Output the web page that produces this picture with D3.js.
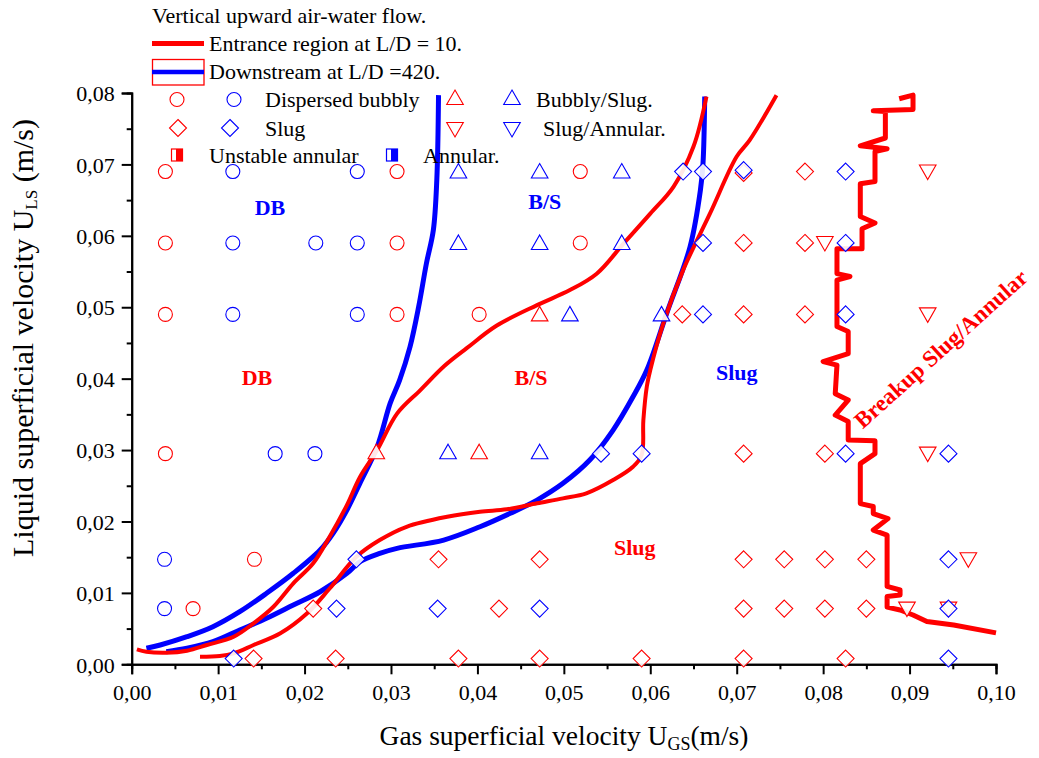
<!DOCTYPE html>
<html>
<head>
<meta charset="utf-8">
<script src="https://cdn.jsdelivr.net/npm/d3@7"></script>
<style>
  html, body { margin: 0; padding: 0; background: #fff; }
  svg { display: block; }
  text { font-family: "Liberation Serif", "Times New Roman", serif; }
</style>
</head>
<body>
<svg id="chart" width="1039" height="758"></svg>
<script>
// ---------------- DATA ----------------
const xTicks = [0, 0.01, 0.02, 0.03, 0.04, 0.05, 0.06, 0.07, 0.08, 0.09, 0.10];
const yTicks = [0, 0.01, 0.02, 0.03, 0.04, 0.05, 0.06, 0.07, 0.08];
const xMinor = [0.005, 0.015, 0.025, 0.035, 0.045, 0.055, 0.065, 0.075, 0.085, 0.095];
const yMinor = [0.005, 0.015, 0.025, 0.035, 0.045, 0.055, 0.065, 0.075];

// Entrance region (L/D = 10) boundaries
const entranceDbBs = [[0.0006,0.0021],[0.0017,0.00176],[0.0040,0.00162],[0.0064,0.0019],[0.0087,0.0027],[0.0118,0.00386],[0.0141,0.00574],[0.0164,0.00806],[0.0187,0.01134],[0.0210,0.01414],[0.0229,0.01786],[0.0249,0.0223],[0.0264,0.0262],[0.0284,0.0300],[0.0307,0.0351],[0.0334,0.0384],[0.0362,0.0418],[0.0388,0.0443],[0.0422,0.0474],[0.0469,0.0503],[0.0507,0.0524],[0.0538,0.0547],[0.0569,0.0589],[0.0600,0.0631],[0.0627,0.0669],[0.0650,0.0725],[0.0665,0.0795]];
const entranceBsSlug = [[0.0079,0.00106],[0.0102,0.00116],[0.0118,0.00154],[0.0141,0.0027],[0.0172,0.00434],[0.0203,0.00714],[0.0229,0.01061],[0.0260,0.01506],[0.0287,0.0174],[0.0318,0.01926],[0.0365,0.02066],[0.0403,0.02136],[0.0434,0.0217],[0.0469,0.02254],[0.0499,0.02324],[0.0526,0.02394],[0.0557,0.0258],[0.0580,0.02766],[0.0590,0.0293],[0.0592,0.0342],[0.0596,0.0389],[0.0600,0.0412],[0.0615,0.0477],[0.0638,0.0552],[0.0669,0.0631],[0.0700,0.0711],[0.0715,0.0734],[0.0746,0.0797]];
const entranceBreakup = [[0.0888,0.0792],[0.0904,0.0797],[0.0904,0.0777],[0.0858,0.0775],[0.0872,0.0774],[0.0872,0.0737],[0.0843,0.0726],[0.0874,0.0722],[0.0860,0.0718],[0.0860,0.0676],[0.0843,0.0673],[0.0843,0.0627],[0.0860,0.0618],[0.0845,0.0610],[0.0845,0.0582],[0.0816,0.0582],[0.0816,0.0547],[0.0831,0.0543],[0.0816,0.0538],[0.0816,0.0473],[0.0829,0.0466],[0.0829,0.0435],[0.0800,0.0424],[0.0816,0.0419],[0.0814,0.0379],[0.0829,0.0370],[0.0814,0.0349],[0.0829,0.0340],[0.0829,0.0314],[0.0860,0.0313],[0.0860,0.0295],[0.0843,0.0281],[0.0843,0.0225],[0.0858,0.0221],[0.0858,0.0211],[0.0875,0.0204],[0.0858,0.0188],[0.0874,0.0181],[0.0874,0.0109],[0.0889,0.0104],[0.0889,0.0097],[0.0874,0.0095],[0.0874,0.0080],[0.0889,0.0076],[0.0904,0.0069],[0.0920,0.0060],[0.0951,0.0055],[0.1000,0.0044]];

// Downstream (L/D = 420) boundaries
const downstreamDbBs = [[0.0017,0.00224],[0.0033,0.0027],[0.0064,0.00386],[0.0094,0.00526],[0.0125,0.00736],[0.0156,0.00994],[0.0187,0.01274],[0.0218,0.0160],[0.0233,0.01834],[0.0249,0.0216],[0.0264,0.02534],[0.0284,0.03046],[0.0299,0.03654],[0.0310,0.0398],[0.0322,0.04446],[0.0332,0.05006],[0.0341,0.05614],[0.0349,0.0608],[0.0353,0.0678],[0.0355,0.0797]];
const downstreamBsSlug = [[0.0040,0.00176],[0.0064,0.00224],[0.0094,0.00316],[0.0125,0.0048],[0.0156,0.00644],[0.0187,0.0083],[0.0218,0.01016],[0.0249,0.01274],[0.0264,0.01436],[0.0287,0.01554],[0.0307,0.01624],[0.0361,0.0174],[0.0403,0.01926],[0.0438,0.02114],[0.0469,0.0230],[0.0499,0.02534],[0.0530,0.0286],[0.0557,0.0328],[0.0580,0.03746],[0.0596,0.0412],[0.0619,0.04914],[0.0646,0.05846],[0.0658,0.0664],[0.0661,0.07014],[0.0663,0.0795]];

// Experimental points [UGS, ULS]
const redCircles = [[0.0039,0.069],[0.0307,0.069],[0.0519,0.069],[0.0039,0.059],[0.0307,0.059],[0.0519,0.059],[0.0039,0.049],[0.0307,0.049],[0.0402,0.049],[0.0039,0.0295],[0.0142,0.0147],[0.0071,0.0078]];
const blueCircles = [[0.0117,0.069],[0.0261,0.069],[0.0117,0.059],[0.0213,0.059],[0.0261,0.059],[0.0117,0.049],[0.0261,0.049],[0.0166,0.0295],[0.0212,0.0295],[0.0038,0.0147],[0.0038,0.0078]];
const redDiamonds = [[0.0708,0.0688],[0.0779,0.069],[0.0708,0.059],[0.0779,0.059],[0.0637,0.049],[0.0708,0.049],[0.0779,0.049],[0.0708,0.0295],[0.0802,0.0295],[0.0355,0.0147],[0.0472,0.0147],[0.0708,0.0147],[0.0755,0.0147],[0.0802,0.0147],[0.0850,0.0147],[0.0210,0.0078],[0.0425,0.0078],[0.0708,0.0078],[0.0755,0.0078],[0.0802,0.0078],[0.0850,0.0078],[0.0141,0.0008],[0.0236,0.0008],[0.0378,0.0008],[0.0472,0.0008],[0.0590,0.0008],[0.0708,0.0008],[0.0826,0.0008]];
const blueDiamonds = [[0.0638,0.069],[0.0661,0.069],[0.0708,0.0692],[0.0826,0.069],[0.0661,0.059],[0.0826,0.059],[0.0661,0.049],[0.0826,0.049],[0.0543,0.0295],[0.0590,0.0295],[0.0826,0.0295],[0.0945,0.0295],[0.0260,0.0147],[0.0945,0.0147],[0.0237,0.0078],[0.0354,0.0078],[0.0472,0.0078],[0.0945,0.0078],[0.0118,0.0008],[0.0945,0.0008]];
const redTrianglesUp = [[0.0472,0.049],[0.0283,0.0297],[0.0402,0.0297]];
const blueTrianglesUp = [[0.0378,0.069],[0.0472,0.069],[0.0567,0.069],[0.0378,0.059],[0.0472,0.059],[0.0567,0.059],[0.0507,0.049],[0.0613,0.049],[0.0366,0.0297],[0.0472,0.0297]];
const redTrianglesDown = [[0.0921,0.069],[0.0802,0.059],[0.0921,0.049],[0.0921,0.0295],[0.0968,0.0147],[0.0897,0.0078],[0.0945,0.0078]];

// Region labels [text, UGS, ULS, colour]
const regionLabels = [["DB",0.0160,0.0640,"blue"],["B/S",0.0478,0.0648,"blue"],["DB",0.0145,0.0402,"red"],["B/S",0.0462,0.0402,"red"],["Slug",0.0700,0.0408,"blue"],["Slug",0.0582,0.0163,"red"]];

// ---------------- CHART ----------------
const RED = "#ff0000", BLUE = "#0000ff";
const svg = d3.select("#chart");
const x = d3.scaleLinear().domain([0, 0.10]).range([131.7, 996]);
const y = d3.scaleLinear().domain([0, 0.08]).range([664.3, 93]);
const fmt = d => d3.format(".2f")(d).replace(".", ",");

// axes
const gx = svg.append("g").attr("transform", `translate(0,${y(0)})`)
  .call(d3.axisBottom(x).tickValues(xTicks).tickFormat(fmt).tickSize(10).tickPadding(6));
const gxm = svg.append("g").attr("transform", `translate(0,${y(0)})`)
  .call(d3.axisBottom(x).tickValues(xMinor).tickFormat("").tickSize(5));
const gy = svg.append("g").attr("transform", `translate(${x(0)},0)`)
  .call(d3.axisLeft(y).tickValues(yTicks).tickFormat(fmt).tickSize(10).tickPadding(7));
const gym = svg.append("g").attr("transform", `translate(${x(0)},0)`)
  .call(d3.axisLeft(y).tickValues(yMinor).tickFormat("").tickSize(5));
[gx, gxm, gy, gym].forEach(g => {
  g.select(".domain").attr("stroke", "#000").attr("stroke-width", 2);
  g.selectAll(".tick line").attr("stroke", "#000").attr("stroke-width", 2);
  g.selectAll(".tick text").attr("fill", "#000")
    .style("font-family", '"Liberation Serif", serif').style("font-size", "22px");
});
gx.selectAll(".tick text").attr("dy", "0.88em");
gy.selectAll(".tick text").attr("dy", "0.35em");

// axis titles
const xt = svg.append("text").attr("x", 564).attr("y", 745).attr("text-anchor", "middle")
  .style("font-size", "27.5px").attr("fill", "#000");
xt.append("tspan").text("Gas superficial velocity U");
xt.append("tspan").attr("dy", 5).style("font-size", "18px").text("GS");
xt.append("tspan").attr("dy", -5).text("(m/s)");

const yt = svg.append("text").attr("transform", "translate(33,338) rotate(-90)")
  .attr("text-anchor", "middle").style("font-size", "30px").attr("fill", "#000");
yt.append("tspan").text("Liquid superficial velocity U");
yt.append("tspan").attr("dy", 4).style("font-size", "17px").text("LS");
yt.append("tspan").attr("dy", -4).text(" (m/s)");

// curves
const line = d3.line().x(d => x(d[0])).y(d => y(d[1]));
const smooth = d3.line().x(d => x(d[0])).y(d => y(d[1])).curve(d3.curveCatmullRom.alpha(0.5));
const curves = [
  [downstreamDbBs, BLUE, 5, smooth],
  [downstreamBsSlug, BLUE, 5, smooth],
  [entranceDbBs, RED, 4, smooth],
  [entranceBsSlug, RED, 4, smooth],
  [entranceBreakup, RED, 5, line]
];
curves.forEach(([data, col, w, gen]) => {
  svg.append("path").datum(data).attr("d", gen).attr("fill", "none")
    .attr("stroke", col).attr("stroke-width", w)
    .attr("stroke-linejoin", "round").attr("stroke-linecap", "butt");
});

// markers
const sym = {
  circle: "M0,-7A7,7 0 1,1 0,7A7,7 0 1,1 0,-7Z",
  diamond: "M0,-8.5L8.5,0L0,8.5L-8.5,0Z",
  up: "M0,-8L8.3,6.5L-8.3,6.5Z",
  down: "M0,8L8.3,-6.5L-8.3,-6.5Z"
};
function drawPoints(data, shape, col) {
  svg.append("g").selectAll("path").data(data).join("path")
    .attr("transform", d => `translate(${x(d[0])},${y(d[1])})`)
    .attr("d", sym[shape]).attr("fill", "#fff").attr("fill-opacity", 0.9)
    .attr("stroke", col).attr("stroke-width", 1.1);
}
drawPoints(redCircles, "circle", RED);
drawPoints(blueCircles, "circle", BLUE);
drawPoints(redDiamonds, "diamond", RED);
drawPoints(redTrianglesUp, "up", RED);
drawPoints(blueTrianglesUp, "up", BLUE);
drawPoints(redTrianglesDown, "down", RED);
drawPoints(blueDiamonds, "diamond", BLUE);

// region labels
regionLabels.forEach(([t, ux, uy, c]) => {
  svg.append("text").attr("x", x(ux)).attr("y", y(uy)).attr("text-anchor", "middle")
    .attr("dominant-baseline", "central")
    .style("font-size", "22px").style("font-weight", "bold").attr("fill", c).text(t);
});
svg.append("text").attr("transform", "translate(941,349) rotate(-42)")
  .attr("text-anchor", "middle").attr("dominant-baseline", "central")
  .style("font-size", "23px").style("font-weight", "bold").attr("fill", RED)
  .text("Breakup Slug/Annular");

// ---------------- LEGEND ----------------
const lg = svg.append("g");
const lfs = "22px";
lg.append("text").attr("x", 152).attr("y", 23).style("font-size", lfs).text("Vertical upward air-water flow.");
lg.append("line").attr("x1", 152).attr("x2", 204).attr("y1", 43.5).attr("y2", 43.5)
  .attr("stroke", RED).attr("stroke-width", 5);
lg.append("text").attr("x", 209).attr("y", 50.5).style("font-size", lfs).text("Entrance region at L/D = 10.");
lg.append("rect").attr("x", 152.5).attr("y", 59.5).attr("width", 51.5).attr("height", 25.5)
  .attr("fill", "#fff").attr("stroke", RED).attr("stroke-width", 1.3);
lg.append("line").attr("x1", 152).attr("x2", 204).attr("y1", 72).attr("y2", 72)
  .attr("stroke", BLUE).attr("stroke-width", 4.5);
lg.append("text").attr("x", 209).attr("y", 79).style("font-size", lfs).text("Downstream at L/D =420.");

function legendSym(shape, col, cx, cy) {
  lg.append("path").attr("transform", `translate(${cx},${cy})`).attr("d", sym[shape])
    .attr("fill", "#fff").attr("stroke", col).attr("stroke-width", 1.1);
}
legendSym("circle", RED, 177, 99.5);
legendSym("circle", BLUE, 234, 99.5);
lg.append("text").attr("x", 265).attr("y", 107).style("font-size", lfs).text("Dispersed bubbly");
legendSym("up", RED, 455, 98);
legendSym("up", BLUE, 512, 98);
lg.append("text").attr("x", 536).attr("y", 107).style("font-size", lfs).text("Bubbly/Slug.");
legendSym("diamond", RED, 178, 128);
legendSym("diamond", BLUE, 230, 128);
lg.append("text").attr("x", 265).attr("y", 135.5).style("font-size", lfs).text("Slug");
legendSym("down", RED, 455, 129);
legendSym("down", BLUE, 512, 129);
lg.append("text").attr("x", 543).attr("y", 135.5).style("font-size", lfs).text("Slug/Annular.");

function halfSquare(col, cx, cy) {
  lg.append("rect").attr("x", cx - 5.5).attr("y", cy - 6).attr("width", 11).attr("height", 12)
    .attr("fill", "#fff").attr("stroke", col).attr("stroke-width", 1.2);
  lg.append("rect").attr("x", cx - 1).attr("y", cy - 6).attr("width", 6.5).attr("height", 12)
    .attr("fill", col);
}
halfSquare(RED, 177, 155);
lg.append("text").attr("x", 209).attr("y", 163).style("font-size", lfs).text("Unstable annular");
halfSquare(BLUE, 392, 155);
lg.append("text").attr("x", 423).attr("y", 163).style("font-size", lfs).text("Annular.");
</script>
</body>
</html>
